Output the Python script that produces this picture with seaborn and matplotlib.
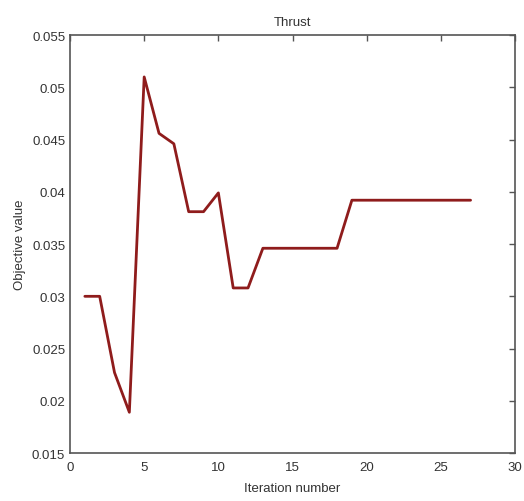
import matplotlib
matplotlib.use("Agg")
import matplotlib.pyplot as plt
import seaborn as sns
import pandas as pd

iterations = list(range(1, 28))
objective = [0.0300, 0.0300, 0.0227, 0.0189, 0.0510, 0.0456, 0.0446, 0.0381, 0.0381, 0.0399,
             0.0308, 0.0308, 0.0346, 0.0346, 0.0346, 0.0346, 0.0346, 0.0346, 0.0392, 0.0392,
             0.0392, 0.0392, 0.0392, 0.0392, 0.0392, 0.0392, 0.0392]
xticks = [0, 5, 10, 15, 20, 25, 30]
yticks = [0.015, 0.02, 0.025, 0.03, 0.035, 0.04, 0.045, 0.05, 0.055]
ytick_labels = ["0.015", "0.02", "0.025", "0.03", "0.035", "0.04", "0.045", "0.05", "0.055"]

df = pd.DataFrame({"Iteration number": iterations, "Objective value": objective})

sns.set_style("white")
plt.rcParams['font.family'] = ['Liberation Sans', 'DejaVu Sans']

fig = plt.figure(figsize=(5.24, 5.02), dpi=100)
ax = fig.add_axes([0.1336, 0.0956, 0.8494, 0.8324])
sns.lineplot(data=df, x="Iteration number", y="Objective value", ax=ax,
             color="#8f1c1c", linewidth=2.0)

gray = "#555555"
txt = "#333333"
ax.set_xlim(0, 30)
ax.set_ylim(0.015, 0.055)
ax.set_xticks(xticks)
ax.set_yticks(yticks)
ax.set_yticklabels(ytick_labels)
for s in ax.spines.values():
    s.set_color(gray)
    s.set_linewidth(1.2)
ax.tick_params(direction="in", top=True, right=True, length=4, width=1,
               colors=gray, labelcolor=txt, labelsize=9.5)
ax.tick_params(axis="x", pad=6)
ax.set_xlabel("Iteration number", fontsize=9.5, color=txt, labelpad=6)
ax.set_ylabel("Objective value", fontsize=9.5, color=txt, labelpad=4)
ax.set_title("Thrust", fontsize=9.5, color=txt, pad=7)

fig.savefig("out.png", dpi=100)
